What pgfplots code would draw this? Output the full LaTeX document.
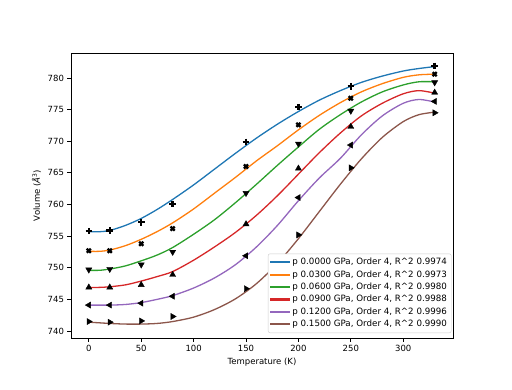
\documentclass[border=0pt]{standalone}
\usepackage{pgfplots}
\pgfplotsset{compat=1.18}
\usepackage{fontspec}
\setmainfont{DejaVu Sans}
\definecolor{c0}{HTML}{1F77B4}
\definecolor{c1}{HTML}{FF7F0E}
\definecolor{c2}{HTML}{2CA02C}
\definecolor{c3}{HTML}{D62728}
\definecolor{c4}{HTML}{9467BD}
\definecolor{c5}{HTML}{8C564B}
\begin{document}
\begin{tikzpicture}
\useasboundingbox (-71pt,-51pt) rectangle (441pt,338pt);
\begin{axis}[
  at={(0,0)}, anchor=south west, scale only axis,
  width=382pt, height=285pt,
  xmin=-17, xmax=347.5, ymin=738.9, ymax=783.95,
  xtick={0,50,...,300}, ytick={740,745,...,780},
  tick align=outside, xtick pos=left, ytick pos=left,
  major tick length=3.5pt,
  tick style={black, line width=0.8pt},
  axis line style={line width=0.8pt},
  /pgf/number format/assume math mode=true,
  tick label style={font=\fontsize{8.5}{10}\selectfont},
  label style={font=\fontsize{8.5}{10}\selectfont},
  xlabel={Temperature (K)},
  ylabel={Volume (\textit{Å}\textsuperscript{3})},
  legend cell align=left,
  legend style={at={(rel axis cs:1,0)}, anchor=south east, xshift=-1.5pt, yshift=5pt,
    draw=black!20, rounded corners=2pt, fill=white,
    font=\fontsize{8.7}{10}\selectfont, row sep=0pt, inner sep=2.3pt,
    nodes={text height=6.6pt, text depth=1.8pt}},
  legend image code/.code={\fill[#1, draw=none, sharp corners] (0pt,-1.1pt) rectangle (20pt,1.1pt);},
]
\addplot[color=c0, smooth, line width=1.3pt] coordinates {
(0,755.7) (10,755.7) (20,755.9) (35,756.7) (50,757.8) (65,759.2) (80,760.8) (100,763.1)
(120,765.6) (140,768.1) (160,770.5) (180,772.7) (200,774.7) (220,776.5) (240,778.0)
(260,779.3) (280,780.3) (300,781.1) (315,781.5) (330,781.8)};
\addlegendentry{p 0.0000 GPa, Order 4, R\textasciicircum 2 0.9974}
\addplot[color=c1, smooth, line width=1.3pt] coordinates {
(0,752.6) (10,752.6) (20,752.8) (35,753.5) (50,754.5) (65,755.7) (80,757.1) (100,759.3)
(120,761.8) (140,764.3) (160,766.9) (180,769.3) (200,771.8) (220,774.1) (240,776.1)
(260,777.8) (280,779.1) (300,780.1) (315,780.5) (330,780.6)};
\addlegendentry{p 0.0300 GPa, Order 4, R\textasciicircum 2 0.9973}
\addplot[color=c2, smooth, line width=1.3pt] coordinates {
(0,749.6) (10,749.6) (20,749.8) (35,750.3) (50,751.1) (65,752.0) (80,753.2) (100,755.3)
(120,757.6) (140,760.3) (160,763.2) (180,766.2) (200,769.1) (220,771.9) (240,774.2)
(260,776.2) (280,777.8) (300,778.9) (315,779.4) (330,779.4)};
\addlegendentry{p 0.0600 GPa, Order 4, R\textasciicircum 2 0.9980}
\addplot[color=c3, smooth, line width=1.3pt] coordinates {
(0,746.9) (10,746.9) (20,747.0) (35,747.3) (50,747.9) (65,748.6) (80,749.4) (100,751.2)
(120,753.3) (140,755.6) (160,758.3) (180,761.4) (200,764.8) (220,768.2) (240,771.3)
(260,774.0) (280,776.0) (300,777.5) (315,778.0) (330,777.6)};
\addlegendentry{p 0.0900 GPa, Order 4, R\textasciicircum 2 0.9988}
\addplot[color=c4, smooth, line width=1.3pt] coordinates {
(0,744.1) (10,744.1) (20,744.1) (35,744.2) (50,744.5) (65,745.0) (80,745.6) (100,746.8)
(120,748.4) (140,750.5) (160,753.3) (180,756.7) (200,760.6) (220,764.2) (240,767.3)
(260,771.0) (280,774.0) (300,776.0) (315,776.6) (330,776.2)};
\addlegendentry{p 0.1200 GPa, Order 4, R\textasciicircum 2 0.9996}
\addplot[color=c5, smooth, line width=1.3pt] coordinates {
(0,741.4) (10,741.3) (20,741.2) (35,741.1) (50,741.1) (65,741.2) (80,741.5) (100,742.2)
(120,743.4) (140,745.1) (160,747.5) (180,750.7) (200,754.6) (220,758.9) (240,763.2)
(260,767.2) (280,770.6) (300,773.1) (315,774.2) (330,774.6)};
\addlegendentry{p 0.1500 GPa, Order 4, R\textasciicircum 2 0.9990}
% data points
\addplot[forget plot, only marks, black, mark=+, mark size=3.3pt, mark options={line width=2.4pt}] coordinates {
(0,755.8) (20,755.9) (50,757.2) (80,760.1) (150,769.9) (200,775.4) (250,778.7) (330,781.9)};
\addplot[forget plot, only marks, black, mark=x, mark size=2.9pt, mark options={line width=2.3pt}] coordinates {
(0,752.7) (20,752.7) (50,753.8) (80,756.2) (150,766.0) (200,772.6) (250,776.8) (330,780.6)};
\addplot[forget plot, only marks, black, mark=triangle*, mark size=3.5pt, mark options={rotate=180}] coordinates {
(0,749.7) (20,749.8) (50,750.5) (80,752.5) (150,761.8) (200,769.6) (250,774.8) (330,779.3)};
\addplot[forget plot, only marks, black, mark=triangle*, mark size=3.5pt] coordinates {
(0,746.9) (20,746.9) (50,747.3) (80,748.9) (150,756.9) (200,765.7) (250,772.3) (330,777.7)};
\addplot[forget plot, only marks, black, mark=triangle*, mark size=3.5pt, mark options={rotate=90}] coordinates {
(0,744.1) (20,744.1) (50,744.4) (80,745.5) (150,751.9) (200,761.1) (250,769.4) (330,776.3)};
\addplot[forget plot, only marks, black, mark=triangle*, mark size=3.5pt, mark options={rotate=-90}] coordinates {
(0,741.5) (20,741.4) (50,741.6) (80,742.3) (150,746.7) (200,755.2) (250,765.8) (330,774.5)};
\end{axis}
\end{tikzpicture}
\end{document}
